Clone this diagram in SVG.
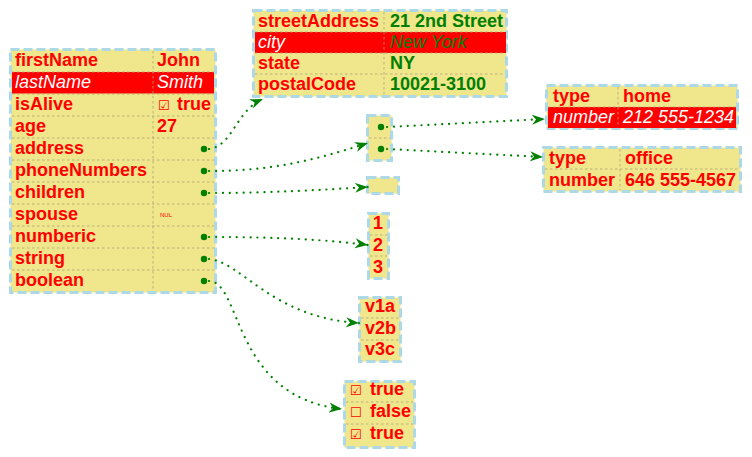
<svg xmlns="http://www.w3.org/2000/svg" width="752" height="457" viewBox="0 0 752 457">
<defs>
<marker id="arr" markerUnits="userSpaceOnUse" markerWidth="14" markerHeight="11" refX="13" refY="5.5" orient="auto">
<path d="M0,0.5 L13,5.5 L0,10.5 L4,5.5 Z" fill="#008000"/>
</marker>
</defs>
<style>
.box{fill:#f0e68c;stroke:#add8e6;stroke-width:3;stroke-dasharray:9 4}
.hl{fill:#ff0000}
.div{stroke:#aaa27a;stroke-width:0.8;stroke-dasharray:2.5 2.5;fill:none}
.k{font-family:"Liberation Sans",Arial,sans-serif;font-size:18px;font-weight:bold;fill:#ff0000}
.g{fill:#008000}
.it{font-weight:normal;font-style:italic;fill:#ffffff}
.itg{font-weight:normal;font-style:italic;fill:#008000}
.cb{font-family:"DejaVu Sans",sans-serif;font-size:13px;font-weight:normal;fill:#ff0000}
.dot{fill:#008000}
.con{fill:none;stroke:#008000;stroke-width:2.2;stroke-linecap:round;stroke-dasharray:0.1 6.8;marker-end:url(#arr)}
</style>

<g id="root">
<rect class="box" x="10.5" y="49.5" width="205" height="243"/>
<rect class="hl" x="12" y="72" width="202" height="21.5"/>
<path class="div" d="M12,72H214M12,94H214M12,116H214M12,138H214M12,160H214M12,182H214M12,204H214M12,226H214M12,248H214M12,270H214M153,51V291"/>
<text class="k" x="15" y="66">firstName</text><text class="k" x="157" y="66">John</text>
<text class="k it" x="15" y="88">lastName</text><text class="k it" x="157" y="88">Smith</text>
<text class="k" x="15" y="110">isAlive</text><text class="cb" x="158" y="110">☑</text><text class="k" x="177" y="110">true</text>
<text class="k" x="15" y="132">age</text><text class="k" x="157" y="132">27</text>
<text class="k" x="15" y="154">address</text>
<text class="k" x="15" y="176">phoneNumbers</text>
<text class="k" x="15" y="198">children</text>
<text class="k" x="15" y="220">spouse</text><text x="160" y="217" style="font-family:'Liberation Sans',Arial,sans-serif;font-size:6px;fill:#ff0000">NUL</text>
<text class="k" x="15" y="242">numberic</text>
<text class="k" x="15" y="264">string</text>
<text class="k" x="15" y="286">boolean</text>
<circle class="dot" cx="204" cy="149" r="3.2"/>
<circle class="dot" cx="204" cy="171" r="3.2"/>
<circle class="dot" cx="204" cy="193" r="3.2"/>
<circle class="dot" cx="204" cy="237" r="3.2"/>
<circle class="dot" cx="204" cy="259" r="3.2"/>
<circle class="dot" cx="204" cy="281" r="3.2"/>
</g>

<g id="address">
<rect class="box" x="253.5" y="10.5" width="253" height="86"/>
<rect class="hl" x="255" y="32" width="251" height="21"/>
<path class="div" d="M255,32H505M255,53H505M255,74H505M384,12V95"/>
<text class="k" x="258" y="27">streetAddress</text><text class="k g" x="390" y="27">21 2nd Street</text>
<text class="k it" x="258" y="48">city</text><text class="k itg" x="390" y="48">New York</text>
<text class="k" x="258" y="69">state</text><text class="k g" x="390" y="69">NY</text>
<text class="k" x="258" y="90">postalCode</text><text class="k g" x="390" y="90">10021-3100</text>
</g>

<g id="phoneNumbers">
<rect class="box" x="367.5" y="115.5" width="24" height="45"/>
<path class="div" d="M369,138H390"/>
<circle class="dot" cx="381" cy="127" r="3.2"/>
<circle class="dot" cx="381" cy="149" r="3.2"/>
</g>

<g id="phone0">
<rect class="box" x="546.5" y="85.5" width="191" height="43"/>
<rect class="hl" x="548" y="107" width="188" height="21"/>
<path class="div" d="M548,107H736M618,87V127"/>
<text class="k" x="553" y="102">type</text><text class="k" x="623" y="102">home</text>
<text class="k it" x="553" y="123">number</text><text class="k it" x="623" y="123">212 555-1234</text>
</g>

<g id="phone1">
<rect class="box" x="543.5" y="147.5" width="197" height="44"/>
<path class="div" d="M545,169H739M620,149V190"/>
<text class="k" x="549" y="164">type</text><text class="k" x="625" y="164">office</text>
<text class="k" x="549" y="186">number</text><text class="k" x="625" y="186">646 555-4567</text>
</g>

<g id="children">
<rect class="box" x="367.5" y="177.5" width="31" height="16"/>
</g>

<g id="numberic">
<rect class="box" x="368.5" y="213.5" width="20" height="65"/>
<path class="div" d="M370,235H387M370,256H387"/>
<text class="k" x="373" y="229">1</text>
<text class="k" x="373" y="251">2</text>
<text class="k" x="373" y="273">3</text>
</g>

<g id="string">
<rect class="box" x="359.5" y="297.5" width="41" height="64"/>
<path class="div" d="M361,318H399M361,340H399"/>
<text class="k" x="365" y="312">v1a</text>
<text class="k" x="365" y="334">v2b</text>
<text class="k" x="365" y="355">v3c</text>
</g>

<g id="boolean">
<rect class="box" x="344.5" y="381.5" width="70" height="66"/>
<path class="div" d="M346,402H413M346,424H413"/>
<text class="cb" x="350" y="395">☑</text><text class="k" x="370" y="395">true</text>
<text class="cb" x="350" y="417">☐</text><text class="k" x="370" y="417">false</text>
<text class="cb" x="350" y="439">☑</text><text class="k" x="370" y="439">true</text>
</g>

<g id="connectors">
<path class="con" d="M209,149 C233,146 236,110 263,99"/>
<path class="con" d="M209,171 C270,171 312,161 368,143"/>
<path class="con" d="M209,193 C270,193 320,190 368,187"/>
<path class="con" d="M209,237 C280,237 330,240 368,245"/>
<path class="con" d="M209,259 C242,262 272,318 359,323"/>
<path class="con" d="M209,281 C242,282 232,397 342,409"/>
<path class="con" d="M387,127 L545,119"/>
<path class="con" d="M387,149 L543,157"/>
</g>
</svg>
